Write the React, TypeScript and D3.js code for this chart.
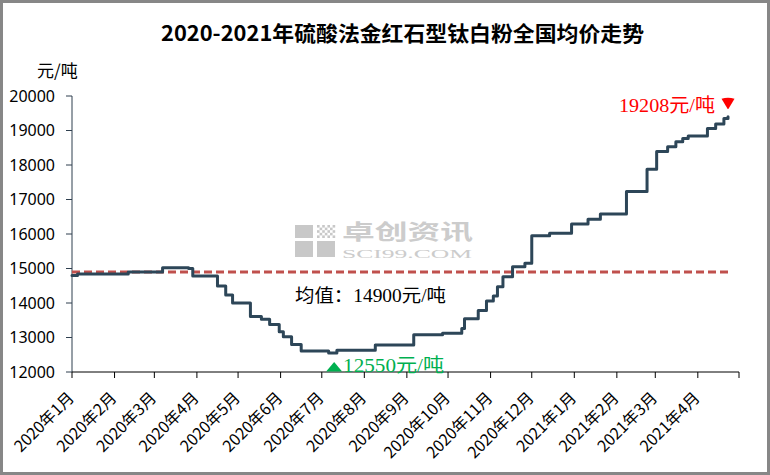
import React from 'react';
import * as d3 from 'd3';

const changeDates = [
  '2020-01-01', '2020-01-05', '2020-02-11', '2020-03-07', '2020-03-26', '2020-03-29',
  '2020-04-16', '2020-04-22', '2020-04-27', '2020-05-10', '2020-05-18', '2020-05-24',
  '2020-05-31', '2020-06-03', '2020-06-09', '2020-06-16', '2020-07-06', '2020-07-12',
  '2020-08-09', '2020-09-06', '2020-09-27', '2020-10-11', '2020-10-13', '2020-10-23',
  '2020-10-29', '2020-11-03', '2020-11-06', '2020-11-10', '2020-11-17', '2020-11-26',
  '2020-12-01', '2020-12-14', '2020-12-30', '2021-01-11', '2021-01-20', '2021-02-08',
  '2021-02-23', '2021-03-02', '2021-03-10', '2021-03-16', '2021-03-21', '2021-03-25',
  '2021-04-08', '2021-04-14', '2021-04-20', '2021-04-23',
];
const prices = [
  14800, 14840, 14900, 15020, 15000, 14780,
  14490, 14230, 14000, 13610, 13530, 13380,
  13170, 13020, 12800, 12610, 12550, 12630,
  12780, 13080, 13120, 13260, 13540, 13780,
  14060, 14200, 14470, 14760, 15050, 15150,
  15950, 16020, 16290, 16425, 16580, 17230,
  17880, 18390, 18530, 18675, 18770, 18840,
  19060, 19190, 19350, 19400,
];

const tickDates = [
  '2020-01-01', '2020-02-01', '2020-03-01', '2020-04-01', '2020-05-01', '2020-06-01',
  '2020-07-01', '2020-08-01', '2020-09-01', '2020-10-01', '2020-11-01', '2020-12-01',
  '2021-01-01', '2021-02-01', '2021-03-01', '2021-04-01', '2021-05-01',
];
const monthLabels = [
  '2020年1月', '2020年2月', '2020年3月', '2020年4月', '2020年5月', '2020年6月',
  '2020年7月', '2020年8月', '2020年9月', '2020年10月', '2020年11月', '2020年12月',
  '2021年1月', '2021年2月', '2021年3月', '2021年4月',
];
const yTicks = [12000, 13000, 14000, 15000, 16000, 17000, 18000, 19000, 20000];

const meanValue = 14900;
const meanLabel = '均值：14900元/吨';
const minLabel = '12550元/吨';
const maxLabel = '19208元/吨';
const minDate = '2020-07-10';
const maxDate = '2021-04-23';
const title = '2020-2021年硫酸法金红石型钛白粉全国均价走势';
const yUnit = '元/吨';

const W = 770;
const H = 475;
const parse = d3.timeParse('%Y-%m-%d');

export default function App() {
  const x = d3.scaleTime()
    .domain([parse(tickDates[0])!, parse(tickDates[tickDates.length - 1])!])
    .range([72, 739]);
  const y = d3.scaleLinear().domain([12000, 20000]).range([372, 96]);

  const pts: [Date, number][] = changeDates.map((d, i) => [parse(d)!, prices[i]]);
  const line = d3.line<[Date, number]>()
    .x(d => x(d[0]))
    .y(d => y(d[1]))
    .curve(d3.curveStepAfter);

  const minX = x(parse(minDate)!);
  const maxX = x(parse(maxDate)!);
  const lastY = y(prices[prices.length - 1]);

  const axisY0 = y(12000);
  const serif = '"Liberation Serif", "Noto Sans CJK SC", serif';
  const sans = '"Noto Sans CJK SC", "Noto Sans", sans-serif';

  // watermark dotted square
  const dots: JSX.Element[] = [];
  for (let r = 0; r < 5; r++) {
    for (let c = 0; c < 7; c++) {
      if ((r + c) % 2 === 0) {
        dots.push(<rect key={`d${r}-${c}`} x={317 + c * 2.6} y={225 + r * 2.6} width={2.6} height={2.6} fill="#c8c8c8" />);
      }
    }
  }

  return (
    <svg width={W} height={H} style={{ position: 'absolute', left: 0, top: 0, background: '#fff' }}>
      <rect x={1.5} y={1.5} width={W - 3} height={H - 3} fill="#fff" stroke="#878787" strokeWidth={3} />

      {/* watermark */}
      <g>
        <rect x={295} y={225} width={18} height={13} fill="#c8c8c8" />
        {dots}
        <rect x={295} y={241} width={18} height={16} fill="#c8c8c8" />
        <rect x={317} y={241} width={18} height={16} fill="#c8c8c8" />
        <text x={342} y={239} fontFamily={sans} fontWeight="bold" fontSize={21} fill="#cccccc" textLength={131} lengthAdjust="spacingAndGlyphs">卓创资讯</text>
        <text x={342} y={258} fontFamily={serif} fontSize={13} fill="#cccccc" textLength={130} lengthAdjust="spacingAndGlyphs">SCI99.COM</text>
      </g>

      {/* title */}
      <text x={161} y={41} fontFamily={sans} fontWeight="bold" fontSize={21} fill="#000" textLength={483} lengthAdjust="spacingAndGlyphs">{title}</text>

      {/* y unit */}
      <text x={37} y={77} fontFamily={sans} fontSize={17} fill="#000">{yUnit}</text>

      {/* y axis */}
      <line x1={72} x2={72} y1={y(20000)} y2={axisY0} stroke="#2f3f4f" strokeWidth={1} />
      {yTicks.map(t => (
        <g key={t}>
          <line x1={66} x2={72} y1={y(t)} y2={y(t)} stroke="#2f3f4f" strokeWidth={1} />
          <text x={55} y={y(t)} dy="0.36em" textAnchor="end" fontFamily='"Noto Sans", sans-serif' fontSize={16} fill="#000">{t}</text>
        </g>
      ))}

      {/* x axis */}
      <line x1={72} x2={739} y1={axisY0} y2={axisY0} stroke="#000" strokeWidth={1} />
      {tickDates.map(d => (
        <line key={d} x1={x(parse(d)!)} x2={x(parse(d)!)} y1={axisY0} y2={axisY0 + 6} stroke="#000" strokeWidth={1} />
      ))}
      {monthLabels.map((lab, i) => {
        const tx = x(parse(tickDates[i])!);
        return (
          <text key={lab} transform={`translate(${tx + 3},${axisY0 + 27}) rotate(-45)`} textAnchor="end"
            fontFamily={sans} fontSize={16} fill="#000">{lab}</text>
        );
      })}

      {/* mean line */}
      <line x1={72} x2={729} y1={y(meanValue)} y2={y(meanValue)} stroke="#c0504d" strokeWidth={3} strokeDasharray="8,4" />

      {/* price line */}
      <path d={line(pts) || ''} fill="none" stroke="#2d4658" strokeWidth={3} strokeLinejoin="round" strokeLinecap="round" />

      {/* annotations */}
      <text x={295} y={302} fontFamily={serif} fontSize={18} fill="#000" textLength={151} lengthAdjust="spacingAndGlyphs">{meanLabel}</text>

      <path d={`M${minX - 8},${y(12550) + 18.5} L${minX},${y(12550) + 9} L${minX + 8},${y(12550) + 18.5} Z`} fill="#00b050" />
      <text x={minX + 9} y={y(12550) + 18.5} fontFamily={serif} fontSize={19} fill="#00b050" textLength={101} lengthAdjust="spacingAndGlyphs">{minLabel}</text>

      <text x={619} y={111.5} fontFamily={serif} fontSize={19} fill="#ff0000" textLength={96} lengthAdjust="spacingAndGlyphs">{maxLabel}</text>
      <path d={`M${maxX - 6.5},${lastY - 18} Q${maxX},${lastY - 20} ${maxX + 6.5},${lastY - 18} L${maxX + 0.5},${lastY - 8} Q${maxX},${lastY - 7.5} ${maxX - 0.5},${lastY - 8} Z`} fill="#ff0000" />
    </svg>
  );
}
